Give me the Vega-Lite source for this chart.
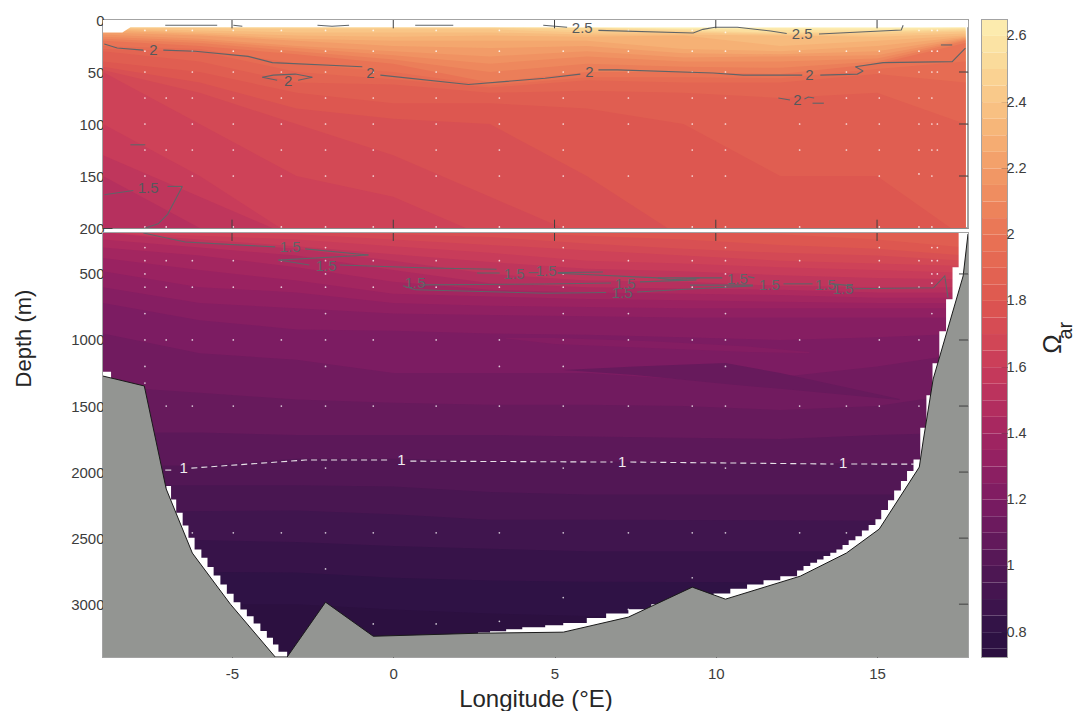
{"$schema":"https://vega.github.io/schema/vega-lite/v6.json","background":"white","padding":{"left":10,"top":12,"right":0,"bottom":0},"spacing":11,
"config":{"font":"Liberation Sans","view":{"stroke":"#a3a3a3","strokeWidth":2},"axis":{"labelFont":"Liberation Sans","titleFont":"Liberation Sans","labelColor":"#3c3c3c","titleColor":"#262626","labelFontSize":15,"titleFontSize":22,"titleFontWeight":"normal","domain":false,"grid":true,"gridColor":"#3a3a3a","gridOpacity":0.22,"gridWidth":1,"tickColor":"#404040","zindex":1,"labelExpr":"''+datum.value"}},
"datasets":{
"top":[
{"v":2.65,"x":-9,"d":7},{"v":2.65,"x":17.74,"d":7},
{"v":2.6,"x":-9,"d":7},{"v":2.6,"x":6,"d":7},{"v":2.6,"x":9,"d":8.5},{"v":2.6,"x":12,"d":8},{"v":2.6,"x":15,"d":8.5},{"v":2.6,"x":17.74,"d":7},
{"v":2.55,"x":-9,"d":7},{"v":2.55,"x":3,"d":7},{"v":2.55,"x":6,"d":7.5},{"v":2.55,"x":9,"d":9},{"v":2.55,"x":12,"d":9.5},{"v":2.55,"x":15,"d":10},{"v":2.55,"x":17.74,"d":8},
{"v":2.5,"x":-9,"d":7},{"v":2.5,"x":3,"d":7},{"v":2.5,"x":6,"d":8},{"v":2.5,"x":9,"d":10},{"v":2.5,"x":12,"d":12},{"v":2.5,"x":15,"d":11},{"v":2.5,"x":17.74,"d":9},
{"v":2.45,"x":-9,"d":7},{"v":2.45,"x":-6,"d":7},{"v":2.45,"x":-3,"d":7.5},{"v":2.45,"x":3,"d":7.5},{"v":2.45,"x":6,"d":10},{"v":2.45,"x":9,"d":11},{"v":2.45,"x":12,"d":13},{"v":2.45,"x":15,"d":12},{"v":2.45,"x":17.74,"d":10},
{"v":2.4,"x":-9,"d":7},{"v":2.4,"x":-6,"d":8},{"v":2.4,"x":-3,"d":9},{"v":2.4,"x":3,"d":9},{"v":2.4,"x":6,"d":12},{"v":2.4,"x":9,"d":12},{"v":2.4,"x":12,"d":14},{"v":2.4,"x":15,"d":14},{"v":2.4,"x":17.74,"d":11},
{"v":2.35,"x":-9,"d":8},{"v":2.35,"x":-6,"d":10},{"v":2.35,"x":-3,"d":12},{"v":2.35,"x":3,"d":12},{"v":2.35,"x":6,"d":14},{"v":2.35,"x":9,"d":14},{"v":2.35,"x":12,"d":15},{"v":2.35,"x":15,"d":16},{"v":2.35,"x":17.74,"d":13},
{"v":2.3,"x":-9,"d":9},{"v":2.3,"x":-6,"d":12},{"v":2.3,"x":-3,"d":15},{"v":2.3,"x":0,"d":16},{"v":2.3,"x":3,"d":15},{"v":2.3,"x":6,"d":16},{"v":2.3,"x":9,"d":15},{"v":2.3,"x":12,"d":25},{"v":2.3,"x":15,"d":20},{"v":2.3,"x":17.74,"d":15},
{"v":2.25,"x":-9,"d":10},{"v":2.25,"x":-6,"d":13.5},{"v":2.25,"x":-3,"d":18},{"v":2.25,"x":0,"d":20},{"v":2.25,"x":3,"d":20},{"v":2.25,"x":6,"d":20},{"v":2.25,"x":9,"d":28},{"v":2.25,"x":12,"d":30},{"v":2.25,"x":15,"d":25},{"v":2.25,"x":17.74,"d":16},
{"v":2.2,"x":-9,"d":12},{"v":2.2,"x":-6,"d":15},{"v":2.2,"x":-3,"d":20},{"v":2.2,"x":0,"d":25},{"v":2.2,"x":3,"d":27},{"v":2.2,"x":6,"d":25},{"v":2.2,"x":9,"d":32},{"v":2.2,"x":12,"d":33},{"v":2.2,"x":15,"d":30},{"v":2.2,"x":17.74,"d":17},
{"v":2.15,"x":-9,"d":14},{"v":2.15,"x":-6,"d":18},{"v":2.15,"x":-3,"d":25},{"v":2.15,"x":0,"d":30},{"v":2.15,"x":3,"d":35},{"v":2.15,"x":6,"d":30},{"v":2.15,"x":9,"d":36},{"v":2.15,"x":12,"d":35},{"v":2.15,"x":15,"d":34},{"v":2.15,"x":17.74,"d":18},
{"v":2.1,"x":-9,"d":16},{"v":2.1,"x":-6,"d":20},{"v":2.1,"x":-3,"d":27},{"v":2.1,"x":0,"d":34},{"v":2.1,"x":3,"d":42},{"v":2.1,"x":6,"d":35},{"v":2.1,"x":9,"d":40},{"v":2.1,"x":12,"d":40},{"v":2.1,"x":15,"d":37},{"v":2.1,"x":17.74,"d":19},
{"v":2.05,"x":-9,"d":18},{"v":2.05,"x":-6,"d":22},{"v":2.05,"x":-3,"d":30},{"v":2.05,"x":0,"d":38},{"v":2.05,"x":3,"d":50},{"v":2.05,"x":6,"d":42},{"v":2.05,"x":9,"d":45},{"v":2.05,"x":12,"d":46},{"v":2.05,"x":15,"d":40},{"v":2.05,"x":17.74,"d":20},
{"v":2.0,"x":-9,"d":20},{"v":2.0,"x":-6,"d":25},{"v":2.0,"x":-3,"d":33},{"v":2.0,"x":0,"d":42},{"v":2.0,"x":3,"d":60},{"v":2.0,"x":6,"d":50},{"v":2.0,"x":9,"d":50},{"v":2.0,"x":12,"d":52},{"v":2.0,"x":15,"d":42},{"v":2.0,"x":17.74,"d":22},
{"v":1.95,"x":-9,"d":25},{"v":1.95,"x":-6,"d":28},{"v":1.95,"x":-3,"d":42},{"v":1.95,"x":0,"d":50},{"v":1.95,"x":3,"d":63},{"v":1.95,"x":6,"d":55},{"v":1.95,"x":9,"d":55},{"v":1.95,"x":12,"d":56},{"v":1.95,"x":15,"d":47},{"v":1.95,"x":17.74,"d":40},
{"v":1.9,"x":-9,"d":28},{"v":1.9,"x":-6,"d":30},{"v":1.9,"x":-3,"d":50},{"v":1.9,"x":0,"d":57},{"v":1.9,"x":3,"d":65},{"v":1.9,"x":6,"d":58},{"v":1.9,"x":9,"d":60},{"v":1.9,"x":12,"d":60},{"v":1.9,"x":15,"d":52},{"v":1.9,"x":17.74,"d":60},
{"v":1.85,"x":-9,"d":30},{"v":1.85,"x":-6,"d":40},{"v":1.85,"x":-3,"d":60},{"v":1.85,"x":0,"d":62},{"v":1.85,"x":3,"d":70},{"v":1.85,"x":6,"d":68},{"v":1.85,"x":9,"d":70},{"v":1.85,"x":12,"d":75},{"v":1.85,"x":15,"d":70},{"v":1.85,"x":17.74,"d":100},
{"v":1.8,"x":-9,"d":40},{"v":1.8,"x":-6,"d":50},{"v":1.8,"x":-3,"d":70},{"v":1.8,"x":0,"d":80},{"v":1.8,"x":3,"d":80},{"v":1.8,"x":6,"d":85},{"v":1.8,"x":9,"d":100},{"v":1.8,"x":12,"d":150},{"v":1.8,"x":15,"d":150},{"v":1.8,"x":17.74,"d":210},
{"v":1.75,"x":-9,"d":45},{"v":1.75,"x":-6,"d":60},{"v":1.75,"x":-3,"d":85},{"v":1.75,"x":0,"d":95},{"v":1.75,"x":3,"d":100},{"v":1.75,"x":6,"d":150},{"v":1.75,"x":9,"d":210},
{"v":1.7,"x":-9,"d":48},{"v":1.7,"x":-6,"d":70},{"v":1.7,"x":-3,"d":100},{"v":1.7,"x":0,"d":130},{"v":1.7,"x":3,"d":170},{"v":1.7,"x":6,"d":210},
{"v":1.65,"x":-9,"d":50},{"v":1.65,"x":-6,"d":100},{"v":1.65,"x":-3,"d":150},{"v":1.65,"x":0,"d":170},{"v":1.65,"x":3,"d":210},
{"v":1.6,"x":-9,"d":100},{"v":1.6,"x":-6,"d":150},{"v":1.6,"x":-3,"d":210},
{"v":1.55,"x":-9,"d":130},{"v":1.55,"x":-6,"d":170},{"v":1.55,"x":-3,"d":210},
{"v":1.5,"x":-9,"d":150},{"v":1.5,"x":-6,"d":200},{"v":1.5,"x":-5,"d":210}
],
"bot":[
{"v":1.85,"x":-9,"d":185},{"v":1.85,"x":17.74,"d":185},
{"v":1.8,"x":-9,"d":185},{"v":1.8,"x":9,"d":185},{"v":1.8,"x":12,"d":200},{"v":1.8,"x":15,"d":240},{"v":1.8,"x":17.74,"d":300},
{"v":1.75,"x":-9,"d":185},{"v":1.75,"x":3,"d":185},{"v":1.75,"x":6,"d":210},{"v":1.75,"x":9,"d":240},{"v":1.75,"x":12,"d":280},{"v":1.75,"x":15,"d":310},{"v":1.75,"x":17.74,"d":360},
{"v":1.7,"x":-9,"d":185},{"v":1.7,"x":-3,"d":185},{"v":1.7,"x":0,"d":200},{"v":1.7,"x":3,"d":220},{"v":1.7,"x":6,"d":270},{"v":1.7,"x":9,"d":310},{"v":1.7,"x":12,"d":340},{"v":1.7,"x":15,"d":360},{"v":1.7,"x":17.74,"d":400},
{"v":1.65,"x":-9,"d":185},{"v":1.65,"x":-6,"d":185},{"v":1.65,"x":-3,"d":200},{"v":1.65,"x":0,"d":240},{"v":1.65,"x":3,"d":280},{"v":1.65,"x":6,"d":320},{"v":1.65,"x":9,"d":360},{"v":1.65,"x":12,"d":400},{"v":1.65,"x":15,"d":420},{"v":1.65,"x":17.74,"d":440},
{"v":1.6,"x":-9,"d":185},{"v":1.6,"x":-6,"d":210},{"v":1.6,"x":-3,"d":240},{"v":1.6,"x":0,"d":290},{"v":1.6,"x":3,"d":340},{"v":1.6,"x":6,"d":400},{"v":1.6,"x":9,"d":420},{"v":1.6,"x":12,"d":450},{"v":1.6,"x":15,"d":470},{"v":1.6,"x":17.74,"d":490},
{"v":1.55,"x":-9,"d":185},{"v":1.55,"x":-6,"d":240},{"v":1.55,"x":-3,"d":290},{"v":1.55,"x":0,"d":350},{"v":1.55,"x":3,"d":410},{"v":1.55,"x":6,"d":460},{"v":1.55,"x":9,"d":480},{"v":1.55,"x":12,"d":510},{"v":1.55,"x":15,"d":530},{"v":1.55,"x":17.74,"d":540},
{"v":1.5,"x":-9,"d":185},{"v":1.5,"x":-6,"d":258},{"v":1.5,"x":-3,"d":310},{"v":1.5,"x":0,"d":400},{"v":1.5,"x":3,"d":500},{"v":1.5,"x":6,"d":550},{"v":1.5,"x":9,"d":560},{"v":1.5,"x":12,"d":590},{"v":1.5,"x":15,"d":600},{"v":1.5,"x":17.74,"d":600},
{"v":1.45,"x":-9,"d":240},{"v":1.45,"x":-6,"d":300},{"v":1.45,"x":-3,"d":360},{"v":1.45,"x":0,"d":470},{"v":1.45,"x":3,"d":570},{"v":1.45,"x":6,"d":600},{"v":1.45,"x":9,"d":610},{"v":1.45,"x":12,"d":620},{"v":1.45,"x":15,"d":640},{"v":1.45,"x":17.74,"d":640},
{"v":1.4,"x":-9,"d":300},{"v":1.4,"x":-6,"d":360},{"v":1.4,"x":-3,"d":450},{"v":1.4,"x":0,"d":560},{"v":1.4,"x":3,"d":620},{"v":1.4,"x":6,"d":640},{"v":1.4,"x":9,"d":650},{"v":1.4,"x":12,"d":660},{"v":1.4,"x":15,"d":680},{"v":1.4,"x":17.74,"d":680},
{"v":1.35,"x":-9,"d":380},{"v":1.35,"x":-6,"d":470},{"v":1.35,"x":-3,"d":550},{"v":1.35,"x":0,"d":650},{"v":1.35,"x":3,"d":670},{"v":1.35,"x":6,"d":690},{"v":1.35,"x":9,"d":700},{"v":1.35,"x":12,"d":710},{"v":1.35,"x":15,"d":720},{"v":1.35,"x":17.74,"d":720},
{"v":1.3,"x":-9,"d":480},{"v":1.3,"x":-6,"d":600},{"v":1.3,"x":-3,"d":640},{"v":1.3,"x":0,"d":720},{"v":1.3,"x":3,"d":740},{"v":1.3,"x":6,"d":750},{"v":1.3,"x":9,"d":760},{"v":1.3,"x":12,"d":760},{"v":1.3,"x":15,"d":760},{"v":1.3,"x":17.74,"d":760},
{"v":1.25,"x":-9,"d":600},{"v":1.25,"x":-6,"d":720},{"v":1.25,"x":-3,"d":760},{"v":1.25,"x":0,"d":800},{"v":1.25,"x":3,"d":810},{"v":1.25,"x":6,"d":820},{"v":1.25,"x":9,"d":830},{"v":1.25,"x":12,"d":830},{"v":1.25,"x":15,"d":830},{"v":1.25,"x":17.74,"d":830},
{"v":1.2,"x":-9,"d":720},{"v":1.2,"x":-6,"d":850},{"v":1.2,"x":-3,"d":920},{"v":1.2,"x":0,"d":930},{"v":1.2,"x":3,"d":950},{"v":1.2,"x":6,"d":960},{"v":1.2,"x":9,"d":980},{"v":1.2,"x":12,"d":1000},{"v":1.2,"x":15,"d":980},{"v":1.2,"x":17.74,"d":950},
{"v":1.15,"x":-9,"d":950},{"v":1.15,"x":-6,"d":1100},{"v":1.15,"x":-3,"d":1150},{"v":1.15,"x":0,"d":1250},{"v":1.15,"x":3,"d":1250},{"v":1.15,"x":6,"d":1250},{"v":1.15,"x":9,"d":1300},{"v":1.15,"x":12,"d":1280},{"v":1.15,"x":15,"d":1200},{"v":1.15,"x":17.74,"d":1100},
{"v":1.1,"x":-9,"d":1350},{"v":1.1,"x":-6,"d":1400},{"v":1.1,"x":-3,"d":1450},{"v":1.1,"x":0,"d":1475},{"v":1.1,"x":3,"d":1490},{"v":1.1,"x":6,"d":1490},{"v":1.1,"x":9,"d":1500},{"v":1.1,"x":12,"d":1530},{"v":1.1,"x":15,"d":1500},{"v":1.1,"x":17.74,"d":1400},
{"v":1.05,"x":-9,"d":1700},{"v":1.05,"x":-6,"d":1700},{"v":1.05,"x":-3,"d":1720},{"v":1.05,"x":0,"d":1720},{"v":1.05,"x":3,"d":1720},{"v":1.05,"x":6,"d":1730},{"v":1.05,"x":9,"d":1740},{"v":1.05,"x":12,"d":1750},{"v":1.05,"x":15,"d":1720},{"v":1.05,"x":17.74,"d":1700},
{"v":1.0,"x":-9,"d":1950},{"v":1.0,"x":-6,"d":1950},{"v":1.0,"x":-3,"d":1900},{"v":1.0,"x":0,"d":1900},{"v":1.0,"x":3,"d":1915},{"v":1.0,"x":6,"d":1920},{"v":1.0,"x":9,"d":1925},{"v":1.0,"x":12,"d":1930},{"v":1.0,"x":15,"d":1935},{"v":1.0,"x":17.74,"d":1940},
{"v":0.95,"x":-9,"d":2100},{"v":0.95,"x":-3,"d":2100},{"v":0.95,"x":0,"d":2110},{"v":0.95,"x":3,"d":2150},{"v":0.95,"x":6,"d":2170},{"v":0.95,"x":17.74,"d":2170},
{"v":0.9,"x":-9,"d":2300},{"v":0.9,"x":-3,"d":2290},{"v":0.9,"x":0,"d":2320},{"v":0.9,"x":3,"d":2360},{"v":0.9,"x":6,"d":2360},{"v":0.9,"x":17.74,"d":2370},
{"v":0.85,"x":-9,"d":2500},{"v":0.85,"x":-3,"d":2530},{"v":0.85,"x":0,"d":2560},{"v":0.85,"x":3,"d":2580},{"v":0.85,"x":6,"d":2600},{"v":0.85,"x":17.74,"d":2600},
{"v":0.8,"x":-9,"d":2750},{"v":0.8,"x":-3,"d":2760},{"v":0.8,"x":0,"d":2800},{"v":0.8,"x":3,"d":2820},{"v":0.8,"x":6,"d":2830},{"v":0.8,"x":17.74,"d":2840},
{"v":0.75,"x":-9,"d":3000},{"v":0.75,"x":-3,"d":3000},{"v":0.75,"x":0,"d":3040},{"v":0.75,"x":3,"d":3070},{"v":0.75,"x":6,"d":3090},{"v":0.75,"x":17.74,"d":3100}
],
"lens":[
{"v":1.1,"x":5.27,"d":1227,"d2":1227},{"v":1.1,"x":7.5,"d":1200,"d2":1265},{"v":1.1,"x":10.3,"d":1174,"d2":1333},{"v":1.1,"x":12,"d":1250,"d2":1370},{"v":1.1,"x":15.7,"d":1447,"d2":1455},
{"v":1.24,"x":3.5,"d":985,"d2":990},{"v":1.24,"x":5,"d":985,"d2":1030},{"v":1.24,"x":8,"d":1010,"d2":1060},{"v":1.24,"x":11,"d":1050,"d2":1090},{"v":1.24,"x":12.9,"d":1090,"d2":1100}
],
"corner":[{"x":-9,"d":12},{"x":-8.4,"d":12},{"x":-8.15,"d":7},{"x":17.82,"d":7}],
"bath":[{"x":-9,"d":1273},{"x":-7.72,"d":1348},{"x":-7.04,"d":2128},{"x":-6.23,"d":2613},{"x":-5.05,"d":3000},{"x":-3.66,"d":3400},{"x":-3.29,"d":3400},{"x":-2.1,"d":2985},{"x":-0.62,"d":3243},{"x":2.63,"d":3220},{"x":5.27,"d":3212},{"x":7.29,"d":3098},{"x":9.27,"d":2871},{"x":10.3,"d":2962},{"x":12.62,"d":2788},{"x":14.05,"d":2613},{"x":15.07,"d":2431},{"x":16.31,"d":1962},{"x":16.43,"d":1765},{"x":16.74,"d":1296},{"x":17.67,"d":515},{"x":17.82,"d":197}],
"mask":[{"x":-9,"d":1240},{"x":-8.75,"d":3400},{"x":-7.04,"d":2106},{"x":-6.89,"d":2207},{"x":-6.73,"d":2308},{"x":-6.53,"d":2404},{"x":-6.35,"d":2497},{"x":-6.16,"d":2586},{"x":-5.95,"d":2649},{"x":-5.76,"d":2719},{"x":-5.57,"d":2783},{"x":-5.36,"d":2851},{"x":-5.16,"d":2921},{"x":-4.95,"d":2985},{"x":-4.74,"d":3040},{"x":-4.54,"d":3091},{"x":-4.33,"d":3146},{"x":-4.12,"d":3204},{"x":-3.92,"d":3255},{"x":-3.73,"d":3305},{"x":-3.56,"d":3361},{"x":-3.29,"d":3400},{"x":2.63,"d":3215},{"x":3,"d":3205},{"x":3.5,"d":3190},{"x":4,"d":3175},{"x":4.71,"d":3159},{"x":5.27,"d":3143},{"x":6,"d":3105},{"x":6.6,"d":3070},{"x":7.29,"d":3038},{"x":8,"d":3000},{"x":8.3,"d":3400},{"x":9.93,"d":2919},{"x":10.45,"d":2884},{"x":10.97,"d":2851},{"x":11.48,"d":2818},{"x":12,"d":2788},{"x":12.52,"d":2745},{"x":12.72,"d":2712},{"x":12.93,"d":2687},{"x":13.14,"d":2661},{"x":13.34,"d":2636},{"x":13.55,"d":2611},{"x":13.74,"d":2586},{"x":13.93,"d":2553},{"x":14.12,"d":2517},{"x":14.33,"d":2485},{"x":14.53,"d":2442},{"x":14.74,"d":2401},{"x":14.95,"d":2358},{"x":15.13,"d":2288},{"x":15.34,"d":2214},{"x":15.53,"d":2139},{"x":15.74,"d":2068},{"x":15.93,"d":1992},{"x":16.13,"d":1904},{"x":16.34,"d":1664},{"x":16.53,"d":1419},{"x":16.72,"d":1176},{"x":16.93,"d":934},{"x":17.14,"d":691},{"x":17.34,"d":449},{"x":17.53,"d":185},{"x":17.82,"d":185}],
"dotsTop":[
{"x":-7.7,"d":10},{"x":-7.7,"d":30},{"x":-7.7,"d":50},{"x":-7.7,"d":75},{"x":-7.7,"d":100},{"x":-7.7,"d":125},{"x":-7.7,"d":150},{"x":-7.7,"d":199},
{"x":-7.04,"d":10},{"x":-7.04,"d":75},{"x":-7.04,"d":125},{"x":-7.04,"d":199},
{"x":-6.23,"d":10},{"x":-6.23,"d":30},{"x":-6.23,"d":50},{"x":-6.23,"d":75},{"x":-6.23,"d":100},{"x":-6.23,"d":125},{"x":-6.23,"d":150},
{"x":-4.96,"d":10},{"x":-4.96,"d":30},{"x":-4.96,"d":50},{"x":-4.96,"d":75},{"x":-4.96,"d":100},{"x":-4.96,"d":125},{"x":-4.96,"d":150},{"x":-4.96,"d":199},
{"x":-3.47,"d":10},{"x":-3.47,"d":30},{"x":-3.47,"d":50},{"x":-3.47,"d":75},{"x":-3.47,"d":100},{"x":-3.47,"d":125},{"x":-3.47,"d":150},{"x":-3.47,"d":199},
{"x":-2.1,"d":10},{"x":-2.1,"d":30},{"x":-2.1,"d":50},{"x":-2.1,"d":75},{"x":-2.1,"d":100},{"x":-2.1,"d":125},{"x":-2.1,"d":150},{"x":-2.1,"d":199},
{"x":-0.62,"d":10},{"x":-0.62,"d":30},{"x":-0.62,"d":50},{"x":-0.62,"d":75},{"x":-0.62,"d":100},{"x":-0.62,"d":125},{"x":-0.62,"d":150},{"x":-0.62,"d":199},
{"x":1.33,"d":10},{"x":1.33,"d":30},{"x":1.33,"d":50},{"x":1.33,"d":75},{"x":1.33,"d":100},{"x":1.33,"d":125},{"x":1.33,"d":150},{"x":1.33,"d":199},
{"x":3.29,"d":10},{"x":3.29,"d":30},{"x":3.29,"d":50},{"x":3.29,"d":75},{"x":3.29,"d":100},{"x":3.29,"d":125},{"x":3.29,"d":150},{"x":3.29,"d":199},
{"x":5.27,"d":30},{"x":5.27,"d":50},{"x":5.27,"d":75},{"x":5.27,"d":100},{"x":5.27,"d":125},{"x":5.27,"d":150},{"x":5.27,"d":199},
{"x":7.29,"d":10},{"x":7.29,"d":30},{"x":7.29,"d":50},{"x":7.29,"d":75},{"x":7.29,"d":100},{"x":7.29,"d":150},
{"x":9.27,"d":10},{"x":9.27,"d":30},{"x":9.27,"d":50},{"x":9.27,"d":75},{"x":9.27,"d":100},{"x":9.27,"d":125},{"x":9.27,"d":150},{"x":9.27,"d":199},
{"x":10.3,"d":12},{"x":10.3,"d":30},{"x":10.3,"d":50},{"x":10.3,"d":75},{"x":10.3,"d":100},{"x":10.3,"d":125},{"x":10.3,"d":150},{"x":10.3,"d":199},
{"x":12.6,"d":30},{"x":12.6,"d":100},{"x":12.6,"d":125},{"x":12.6,"d":199},
{"x":14.05,"d":30},{"x":14.05,"d":50},{"x":14.05,"d":75},{"x":14.05,"d":100},{"x":14.05,"d":125},
{"x":15.07,"d":30},{"x":15.07,"d":50},{"x":15.07,"d":75},{"x":15.07,"d":100},{"x":15.07,"d":125},{"x":15.07,"d":150},{"x":15.07,"d":199},
{"x":16.3,"d":10},{"x":16.3,"d":30},{"x":16.3,"d":50},{"x":16.3,"d":75},{"x":16.3,"d":100},{"x":16.3,"d":125},{"x":16.3,"d":148},{"x":16.3,"d":199},
{"x":16.7,"d":10},{"x":16.7,"d":30},{"x":16.7,"d":50},{"x":16.7,"d":75},{"x":16.7,"d":100},{"x":16.7,"d":125},{"x":16.7,"d":150},{"x":16.7,"d":199},
{"x":16.87,"d":10},{"x":16.87,"d":30},{"x":16.87,"d":50},{"x":16.87,"d":100},{"x":16.87,"d":125}
],
"dotsBot":[
{"x":-7.7,"d":300},{"x":-2.1,"d":300},{"x":5.27,"d":300},{"x":10.3,"d":300},{"x":15.07,"d":300},{"x":16.7,"d":300},{"x":16.87,"d":300},
{"x":-7.7,"d":400},{"x":-7.04,"d":400},{"x":-6.23,"d":400},{"x":-4.96,"d":400},{"x":-3.47,"d":400},{"x":-2.1,"d":400},{"x":-0.62,"d":400},{"x":1.33,"d":400},{"x":3.29,"d":400},{"x":5.27,"d":400},{"x":7.29,"d":400},{"x":9.27,"d":400},{"x":10.3,"d":400},{"x":12.6,"d":400},{"x":15.07,"d":400},{"x":16.3,"d":400},{"x":16.7,"d":400},{"x":16.87,"d":400},
{"x":-7.7,"d":500},{"x":-2.1,"d":500},{"x":5.27,"d":500},{"x":10.3,"d":500},{"x":16.7,"d":500},{"x":16.87,"d":500},
{"x":-7.7,"d":600},{"x":-7.04,"d":600},{"x":-6.23,"d":600},{"x":-4.96,"d":600},{"x":-3.47,"d":600},{"x":-2.1,"d":600},{"x":-0.62,"d":600},{"x":1.33,"d":600},{"x":3.29,"d":600},{"x":5.27,"d":600},{"x":9.27,"d":600},{"x":10.3,"d":600},{"x":15.07,"d":600},{"x":16.3,"d":600},{"x":16.7,"d":570},
{"x":-7.7,"d":800},{"x":-2.1,"d":800},{"x":5.27,"d":800},{"x":7.29,"d":800},{"x":10.3,"d":800},{"x":16.7,"d":800},
{"x":-7.7,"d":1000},{"x":-7.04,"d":1000},{"x":-6.23,"d":1000},{"x":-4.96,"d":1000},{"x":-3.47,"d":1000},{"x":-2.1,"d":1000},{"x":-0.62,"d":1000},{"x":1.33,"d":1000},{"x":3.29,"d":1000},{"x":5.27,"d":1000},{"x":7.29,"d":1000},{"x":9.27,"d":1000},{"x":10.3,"d":1000},{"x":12.6,"d":1000},{"x":15.07,"d":1000},{"x":16.3,"d":1000},
{"x":-7.7,"d":1200},{"x":-2.1,"d":1200},{"x":3.29,"d":1200},{"x":5.27,"d":1200},{"x":10.3,"d":1200},
{"x":-7.7,"d":1326},
{"x":-7.04,"d":1500},{"x":-6.23,"d":1500},{"x":-4.96,"d":1500},{"x":-3.47,"d":1500},{"x":-2.1,"d":1500},{"x":-0.62,"d":1500},{"x":1.33,"d":1500},{"x":3.29,"d":1500},{"x":5.27,"d":1500},{"x":7.29,"d":1500},{"x":9.27,"d":1500},{"x":10.3,"d":1500},{"x":12.6,"d":1500},{"x":14.05,"d":1500},{"x":15.07,"d":1500},{"x":16.3,"d":1500},
{"x":-2.1,"d":1970},{"x":5.27,"d":1970},{"x":10.3,"d":1970},
{"x":-6.23,"d":2460},{"x":-4.96,"d":2460},{"x":-3.47,"d":2460},{"x":-2.1,"d":2460},{"x":-0.62,"d":2460},{"x":1.33,"d":2460},{"x":3.29,"d":2460},{"x":5.27,"d":2460},{"x":7.29,"d":2460},{"x":9.27,"d":2460},{"x":10.3,"d":2460},{"x":12.6,"d":2460},{"x":14.05,"d":2460},
{"x":-2.1,"d":2733},{"x":9.27,"d":2800},{"x":5.27,"d":2950},{"x":7.29,"d":3040},{"x":-0.62,"d":3150},{"x":1.33,"d":3150},{"x":3.29,"d":3130}
],
"linesTop":[
{"s":"a1","x":-8.96,"d":23},{"s":"a1","x":-8.56,"d":27},{"s":"a1","x":-7.75,"d":29},
{"s":"a2","x":-7.13,"d":29},{"s":"a2","x":-6.14,"d":30},{"s":"a2","x":-4.5,"d":35},{"s":"a2","x":-3.75,"d":41},{"s":"a2","x":-0.96,"d":45},
{"s":"a3","x":-0.4,"d":53},{"s":"a3","x":2.33,"d":62},{"s":"a3","x":4.71,"d":56},{"s":"a3","x":5.8,"d":52},
{"s":"a4","x":6.36,"d":48},{"s":"a4","x":6.95,"d":48},{"s":"a4","x":9.92,"d":51},{"s":"a4","x":10.85,"d":53},{"s":"a4","x":12.68,"d":53},
{"s":"a5","x":13.24,"d":53},{"s":"a5","x":14.39,"d":52},{"s":"a5","x":14.57,"d":49},
{"s":"a6","x":14.33,"d":45},{"s":"a6","x":14.57,"d":49},
{"s":"a7","x":14.33,"d":45},{"s":"a7","x":15.19,"d":41},{"s":"a7","x":17.33,"d":40},{"s":"a7","x":17.74,"d":27},
{"s":"l1","x":-4.06,"d":55},{"s":"l1","x":-3.72,"d":53},{"s":"l1","x":-3.04,"d":52},{"s":"l1","x":-2.51,"d":55},
{"s":"l2","x":-4.06,"d":55},{"s":"l2","x":-3.6,"d":58},
{"s":"l3","x":-2.95,"d":58},{"s":"l3","x":-2.51,"d":55},
{"s":"r1","x":11.94,"d":75},{"s":"r1","x":12.3,"d":77},
{"s":"r2","x":12.75,"d":76},{"s":"r2","x":12.87,"d":74},{"s":"r2","x":13.05,"d":75},
{"s":"r3","x":13.0,"d":80},{"s":"r3","x":13.35,"d":80},
{"s":"t0","x":16.98,"d":24},{"s":"t0","x":17.33,"d":24},
{"s":"t1","x":-8.15,"d":120},{"s":"t1","x":-7.69,"d":120},
{"s":"p1","x":-8.96,"d":168},{"s":"p1","x":-8.06,"d":164},
{"s":"p2","x":-7.0,"d":160},{"s":"p2","x":-6.54,"d":160},
{"s":"p3","x":-7.69,"d":200},{"s":"p3","x":-7.29,"d":196},{"s":"p3","x":-7.0,"d":187},{"s":"p3","x":-6.54,"d":160},
{"s":"h1","x":-7.07,"d":5},{"s":"h1","x":-5.46,"d":5},
{"s":"h2","x":-4.96,"d":5},{"s":"h2","x":-4.68,"d":6},
{"s":"h3","x":-2.35,"d":5},{"s":"h3","x":-1.9,"d":6},{"s":"h3","x":-1.37,"d":5},
{"s":"h4","x":0.68,"d":5},{"s":"h4","x":1.86,"d":5},
{"s":"h5","x":4.65,"d":5},{"s":"h5","x":5.39,"d":7},
{"s":"h6","x":6.36,"d":10},{"s":"h6","x":9.3,"d":12.5},{"s":"h6","x":9.6,"d":9},{"s":"h6","x":9.98,"d":7},{"s":"h6","x":10.67,"d":7},{"s":"h6","x":11.7,"d":10.6},{"s":"h6","x":12.2,"d":13},
{"s":"h7","x":13.2,"d":13.5},{"s":"h7","x":15.75,"d":9.6},{"s":"h7","x":15.81,"d":5}
],
"linesBot":[
{"s":"a","x":-7.75,"d":190},{"s":"a","x":-6.45,"d":258},{"s":"a","x":-3.66,"d":295},
{"s":"b","x":-2.73,"d":310},{"s":"b","x":-0.77,"d":356},
{"s":"c","x":-3.56,"d":395},{"s":"c","x":-0.77,"d":356},
{"s":"d","x":-3.56,"d":395},{"s":"d","x":-2.6,"d":432},
{"s":"e","x":-1.65,"d":432},{"s":"e","x":1.09,"d":455},{"s":"e","x":3.2,"d":465},
{"s":"f","x":2.6,"d":493},{"s":"f","x":3.3,"d":493},
{"s":"f2","x":4.2,"d":490},{"s":"f2","x":4.5,"d":490},
{"s":"g","x":5.1,"d":490},{"s":"g","x":6.5,"d":485},
{"s":"g2","x":5.1,"d":495},{"s":"g2","x":8.2,"d":530},{"s":"g2","x":10.2,"d":530},
{"s":"g3","x":8.2,"d":530},{"s":"g3","x":8.6,"d":545},{"s":"g3","x":9.5,"d":530},
{"s":"g4","x":11.0,"d":520},{"s":"g4","x":11.2,"d":530},
{"s":"i","x":0.84,"d":583},{"s":"i","x":4.7,"d":576},{"s":"i","x":6.75,"d":568},
{"s":"i2","x":7.65,"d":560},{"s":"i2","x":9.4,"d":545},
{"s":"j","x":0.68,"d":620},{"s":"j","x":4.7,"d":646},{"s":"j","x":6.6,"d":640},
{"s":"j2","x":7.56,"d":637},{"s":"j2","x":9.2,"d":614},{"s":"j2","x":11.15,"d":590},
{"s":"k","x":9.2,"d":585},{"s":"k","x":11.15,"d":585},
{"s":"k2","x":12.1,"d":575},{"s":"k2","x":13.0,"d":575},
{"s":"k3","x":13.6,"d":575},{"s":"k3","x":14.25,"d":590},
{"s":"m","x":14.3,"d":612},{"s":"m","x":16.75,"d":605},{"s":"m","x":17.1,"d":515},{"s":"m","x":17.2,"d":680},
{"s":"n","x":0.3,"d":590},{"s":"n","x":0.68,"d":620}
],
"dash":[
{"s":"a","x":-7.07,"d":1985},{"s":"a","x":-6.83,"d":1985},
{"s":"b","x":-6.26,"d":1970},{"s":"b","x":-2.73,"d":1909},{"s":"b","x":-0.1,"d":1909},
{"s":"c","x":0.53,"d":1917},{"s":"c","x":6.8,"d":1924},
{"s":"e","x":7.35,"d":1924},{"s":"e","x":13.65,"d":1939},
{"s":"f","x":14.2,"d":1939},{"s":"f","x":16.15,"d":1940}
],
"labelsTop":[{"t":"2","x":-7.44,"d":29},{"t":"2","x":-0.71,"d":51},{"t":"2","x":-3.26,"d":59},{"t":"2","x":6.08,"d":50},{"t":"2","x":12.9,"d":53},{"t":"2","x":12.53,"d":77},{"t":"2.5","x":5.86,"d":8},{"t":"2.5","x":12.68,"d":13},{"t":"1.5","x":-7.6,"d":162}],
"labelsBot":[{"t":"1.5","x":-3.2,"d":295},{"t":"1.5","x":-2.08,"d":439},{"t":"1.5","x":3.75,"d":500},{"t":"1.5","x":4.74,"d":477},{"t":"1.5","x":10.67,"d":539},{"t":"1.5","x":7.1,"d":644},{"t":"1.5","x":7.19,"d":576},{"t":"1.5","x":11.66,"d":583},{"t":"1.5","x":13.4,"d":583},{"t":"1.5","x":13.95,"d":614},{"t":"1.5","x":0.68,"d":568}],
"labels1":[{"t":"1","x":-6.5,"d":1970},{"t":"1","x":0.25,"d":1909},{"t":"1","x":7.1,"d":1924},{"t":"1","x":13.95,"d":1932}],
"ticksTopV":[{"x":-5,"d":0,"d2":8},{"x":0,"d":0,"d2":8},{"x":5,"d":0,"d2":8},{"x":10,"d":0,"d2":8},{"x":15,"d":0,"d2":8},{"x":-5,"d":192,"d2":200},{"x":0,"d":192,"d2":200},{"x":5,"d":192,"d2":200},{"x":10,"d":192,"d2":200},{"x":15,"d":192,"d2":200}],
"ticksTopH":[{"x":17.54,"x2":17.82,"d":50},{"x":17.54,"x2":17.82,"d":100},{"x":17.54,"x2":17.82,"d":150}],
"ticksBotV":[{"x":-5,"d":190,"d2":250},{"x":0,"d":190,"d2":250},{"x":5,"d":190,"d2":250},{"x":10,"d":190,"d2":250},{"x":15,"d":190,"d2":250}],
"ticksBotH":[{"x":17.54,"x2":17.82,"d":500},{"x":17.54,"x2":17.82,"d":1000},{"x":17.54,"x2":17.82,"d":1500},{"x":17.54,"x2":17.82,"d":2000},{"x":17.54,"x2":17.82,"d":2500},{"x":17.54,"x2":17.82,"d":3000}],
"bar":[{"v":0.7375,"a":0.725,"b":0.75},{"v":0.775,"a":0.75,"b":0.8},{"v":0.825,"a":0.8,"b":0.85},{"v":0.875,"a":0.85,"b":0.9},{"v":0.925,"a":0.9,"b":0.95},{"v":0.975,"a":0.95,"b":1.0},{"v":1.025,"a":1.0,"b":1.05},{"v":1.075,"a":1.05,"b":1.1},{"v":1.125,"a":1.1,"b":1.15},{"v":1.175,"a":1.15,"b":1.2},{"v":1.225,"a":1.2,"b":1.25},{"v":1.275,"a":1.25,"b":1.3},{"v":1.325,"a":1.3,"b":1.35},{"v":1.375,"a":1.35,"b":1.4},{"v":1.425,"a":1.4,"b":1.45},{"v":1.475,"a":1.45,"b":1.5},{"v":1.525,"a":1.5,"b":1.55},{"v":1.575,"a":1.55,"b":1.6},{"v":1.625,"a":1.6,"b":1.65},{"v":1.675,"a":1.65,"b":1.7},{"v":1.725,"a":1.7,"b":1.75},{"v":1.775,"a":1.75,"b":1.8},{"v":1.825,"a":1.8,"b":1.85},{"v":1.875,"a":1.85,"b":1.9},{"v":1.925,"a":1.9,"b":1.95},{"v":1.975,"a":1.95,"b":2.0},{"v":2.025,"a":2.0,"b":2.05},{"v":2.075,"a":2.05,"b":2.1},{"v":2.125,"a":2.1,"b":2.15},{"v":2.175,"a":2.15,"b":2.2},{"v":2.225,"a":2.2,"b":2.25},{"v":2.275,"a":2.25,"b":2.3},{"v":2.325,"a":2.3,"b":2.35},{"v":2.375,"a":2.35,"b":2.4},{"v":2.425,"a":2.4,"b":2.45},{"v":2.475,"a":2.45,"b":2.5},{"v":2.525,"a":2.5,"b":2.55},{"v":2.575,"a":2.55,"b":2.6},{"v":2.625,"a":2.6,"b":2.648}],
"omega":[{"t":"Ω","p":2.84,"v":1.67,"f":"a"},{"t":"ar","p":3.36,"v":1.71,"f":"b"}]
},
"hconcat":[
{"vconcat":[
{"width":865,"height":208,
"encoding":{"x":{"field":"x","type":"quantitative","scale":{"domain":[-9,17.82],"nice":false,"zero":false},"axis":{"title":null,"values":[-5,0,5,10,15],"labels":false,"ticks":false}},"y":{"field":"d","type":"quantitative","scale":{"domain":[0,200],"nice":false,"reverse":true},"axis":{"title":null,"values":[0,50,100,150,200],"tickSize":-9,"labelPadding":8}}},
"layer":[
{"data":{"name":"top"},"mark":{"type":"area","clip":true},"encoding":{"y2":{"datum":200},"color":{"field":"v","type":"quantitative","legend":null,"scale":{"domain":[0.725,0.8,1,1.2,1.4,1.6,1.8,2,2.2,2.4,2.65],"range":["#2a0f3e","#2f1245","#521755","#7c1c62","#a32660","#c83c5a","#dd5750","#e97355","#f29c68","#f9c586","#fdefb3"]}},"detail":{"field":"v","type":"nominal"}}},
{"data":{"name":"corner"},"mark":{"type":"area","color":"white","clip":true},"encoding":{"y2":{"datum":0}}},
{"data":{"name":"dotsTop"},"mark":{"type":"circle","color":"white","size":3,"opacity":0.8}},
{"data":{"name":"linesTop"},"mark":{"type":"line","color":"#5f6468","strokeWidth":1.1,"clip":true},"encoding":{"detail":{"field":"s","type":"nominal"}}},
{"data":{"name":"labelsTop"},"mark":{"type":"text","color":"#55595c","fontSize":15},"encoding":{"text":{"field":"t","type":"nominal"}}},
{"data":{"name":"ticksTopV"},"mark":{"type":"rule","color":"#404040","strokeWidth":1},"encoding":{"y2":{"field":"d2"}}},
{"data":{"name":"ticksTopH"},"mark":{"type":"rule","color":"#404040","strokeWidth":1},"encoding":{"x2":{"field":"x2"}}}
]},
{"width":865,"height":424,
"encoding":{"x":{"field":"x","type":"quantitative","scale":{"domain":[-9,17.82],"nice":false,"zero":false},"axis":{"title":"Longitude (°E)","titleFontSize":24,"values":[-5,0,5,10,15],"tickSize":-9,"labelPadding":18,"titlePadding":6}},"y":{"field":"d","type":"quantitative","scale":{"domain":[190,3400],"nice":false,"zero":false,"reverse":true},"axis":{"title":"Depth (m)","values":[500,1000,1500,2000,2500,3000],"tickSize":-9,"labelPadding":8,"titleY":105,"titleX":-68}}},
"layer":[
{"data":{"name":"bot"},"mark":{"type":"area","clip":true},"encoding":{"y2":{"datum":3400},"color":{"field":"v","type":"quantitative","legend":null,"scale":{"domain":[0.725,0.8,1,1.2,1.4,1.6,1.8,2,2.2,2.4,2.65],"range":["#2a0f3e","#2f1245","#521755","#7c1c62","#a32660","#c83c5a","#dd5750","#e97355","#f29c68","#f9c586","#fdefb3"]}},"detail":{"field":"v","type":"nominal"}}},
{"data":{"name":"lens"},"mark":{"type":"area","clip":true},"encoding":{"y2":{"field":"d2"},"color":{"field":"v","type":"quantitative","legend":null,"scale":{"domain":[0.725,0.8,1,1.2,1.4,1.6,1.8,2,2.2,2.4,2.65],"range":["#2a0f3e","#2f1245","#521755","#7c1c62","#a32660","#c83c5a","#dd5750","#e97355","#f29c68","#f9c586","#fdefb3"]}},"detail":{"field":"v","type":"nominal"}}},
{"data":{"name":"dotsBot"},"mark":{"type":"circle","color":"white","size":3,"opacity":0.75}},
{"data":{"name":"mask"},"mark":{"type":"area","color":"white","interpolate":"step-after","clip":true},"encoding":{"y2":{"datum":3400}}},
{"data":{"name":"bath"},"mark":{"type":"area","color":"#939592","clip":true},"encoding":{"y2":{"datum":3400}}},
{"data":{"name":"bath"},"mark":{"type":"line","color":"#1a1a1a","strokeWidth":1,"clip":true}},
{"data":{"name":"linesBot"},"mark":{"type":"line","color":"#5f6468","strokeWidth":1.1,"clip":true},"encoding":{"detail":{"field":"s","type":"nominal"}}},
{"data":{"name":"labelsBot"},"mark":{"type":"text","color":"#5f6468","fontSize":15},"encoding":{"text":{"field":"t","type":"nominal"}}},
{"data":{"name":"dash"},"mark":{"type":"line","color":"#e8e2e8","strokeWidth":1.1,"strokeDash":[6,4]},"encoding":{"detail":{"field":"s","type":"nominal"}}},
{"data":{"name":"labels1"},"mark":{"type":"text","color":"#f0ecf0","fontSize":15},"encoding":{"text":{"field":"t","type":"nominal"}}},
{"data":{"name":"ticksBotV"},"mark":{"type":"rule","color":"#404040","strokeWidth":1},"encoding":{"y2":{"field":"d2"}}},
{"data":{"name":"ticksBotH"},"mark":{"type":"rule","color":"#404040","strokeWidth":1},"encoding":{"x2":{"field":"x2"}}}
]}
],"spacing":5,"bounds":"flush"},
{"width":25,"height":637,
"layer":[
{"data":{"name":"bar"},"mark":{"type":"rect"},"encoding":{"x":{"datum":0,"type":"quantitative","scale":{"domain":[0,1],"nice":false},"axis":null},"x2":{"datum":1},"y":{"field":"a","type":"quantitative","scale":{"domain":[0.725,2.648],"nice":false,"zero":false},"axis":{"title":null,"orient":"right","values":[0.8,1,1.2,1.4,1.6,1.8,2,2.2,2.4,2.6],"grid":false,"tickSize":-6,"labelPadding":5,"labelFontSize":14.5}},"y2":{"field":"b"},"color":{"field":"v","type":"quantitative","legend":null,"scale":{"domain":[0.725,0.8,1,1.2,1.4,1.6,1.8,2,2.2,2.4,2.65],"range":["#2a0f3e","#2f1245","#521755","#7c1c62","#a32660","#c83c5a","#dd5750","#e97355","#f29c68","#f9c586","#fdefb3"]}}}},
{"data":{"name":"omega"},"mark":{"type":"text","angle":270,"color":"#262626","clip":false},"encoding":{"x":{"field":"p","type":"quantitative"},"y":{"field":"v","type":"quantitative"},"text":{"field":"t","type":"nominal"},"size":{"field":"f","type":"nominal","legend":null,"scale":{"domain":["a","b"],"range":[26,20]}}}}
]}
]}
